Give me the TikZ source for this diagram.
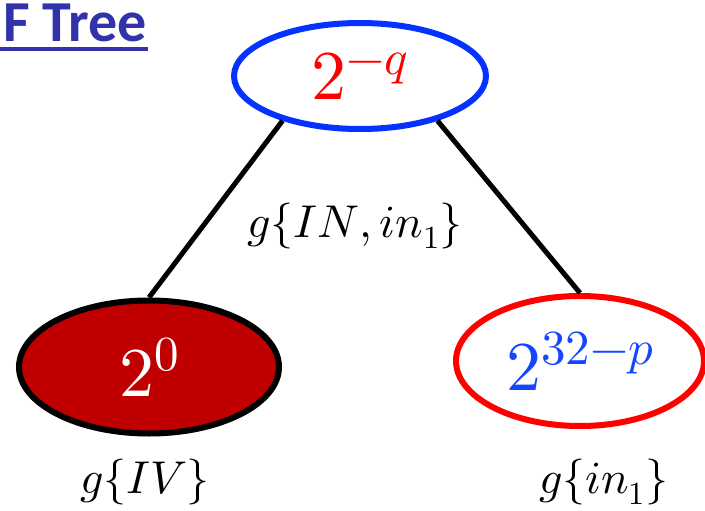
\documentclass[tikz,border=0pt]{standalone}
\usepackage{fontspec}
\usepackage{unicode-math}
\setmainfont{Carlito}
\setmathfont{Latin Modern Math}
\usetikzlibrary{shapes.geometric,shadows}
\definecolor{titleblue}{RGB}{50,50,170}
\definecolor{topblue}{RGB}{5,50,255}
\definecolor{darkred}{RGB}{192,0,0}
\definecolor{numblue}{RGB}{20,70,255}
\tikzset{
  treenode/.style={ellipse, inner sep=0pt, line width=6pt,
    drop shadow={opacity=0.25, shadow xshift=0pt, shadow yshift=-3pt}},
  mathbig/.style={font=\fontsize{70}{80}\selectfont},
  mathlabel/.style={font=\fontsize{46}{54}\selectfont, inner sep=0pt},
  edge/.style={line width=5pt, black}
}
\begin{document}
\begin{tikzpicture}[x=1pt,y=-1pt]
\useasboundingbox (0,0) rectangle (705,511);
\node[anchor=base west, inner sep=0pt, text=titleblue,
  font=\fontsize{58}{62}\selectfont\bfseries] (title) at (3,42) {F Tree};
\draw[titleblue, line width=4.5pt] (0,49) -- (148,49);
\node[treenode, draw=topblue, fill=white, minimum width=252pt, minimum height=106pt,
  mathbig, text=red] (top) at (360,76) {$2^{-q}$};
\node[treenode, draw=black, fill=darkred, minimum width=260pt, minimum height=133pt,
  mathbig, text=white] (left) at (149,367) {$2^{0}$};
\node[treenode, draw=red, fill=white, minimum width=248pt, minimum height=130pt,
  mathbig, text=numblue] (right) at (580,361) {$2^{32-p}$};
\draw[edge] (top.210) -- (left.north);
\draw[edge] (top.330) -- (right.north);
\node[mathlabel] (lab1) at (355,226) {$g\{IN,in_1\}$};
\node[mathlabel] (lab2) at (145,482) {$g\{IV\}$};
\node[mathlabel] (lab3) at (604,482) {$g\{in_1\}$};
\end{tikzpicture}
\end{document}
